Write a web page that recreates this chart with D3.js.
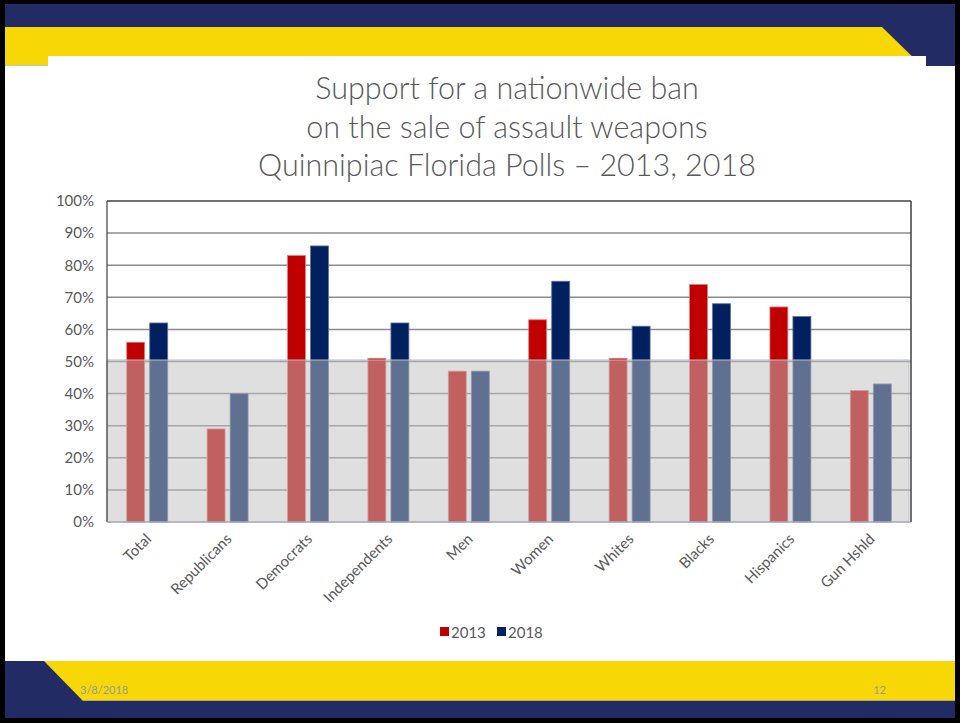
<!DOCTYPE html>
<html><head><meta charset="utf-8">
<script src="https://cdn.jsdelivr.net/npm/d3@7"></script>
<style>body{margin:0;background:#fff}svg{display:block}text{font-family:Lato,"Open Sans",sans-serif}</style>
</head><body>
<svg id="c" width="960" height="723"></svg>
<script>
const categories = ["Total","Republicans","Democrats","Independents","Men","Women","Whites","Blacks","Hispanics","Gun Hshld"];
const years = ["2013","2018"];
const values2013 = [56,29,83,51,47,63,51,74,67,41];
const values2018 = [62,40,86,62,47,75,61,68,64,43];
const yTicks = [0,10,20,30,40,50,60,70,80,90,100];
const titleLines = ["Support for a nationwide ban","on the sale of assault weapons","Quinnipiac Florida Polls \u2013 2013, 2018"];
const colors = {"2013":"#C00000","2018":"#002060"};
const footerDate = "3/8/2018", pageNum = "12";

const svg = d3.select("#c");
const NAVY="#222B63", YEL="#F7D706";
// frame
svg.append("rect").attr("width",960).attr("height",723).attr("fill","#000");
svg.append("rect").attr("x",5).attr("y",4).attr("width",950).attr("height",714).attr("fill","#fff");
// top banner
svg.append("rect").attr("x",5).attr("y",4).attr("width",950).attr("height",62).attr("fill",NAVY);
svg.append("polygon").attr("points","5,27 882,27 922,66 5,66").attr("fill",YEL);
svg.append("line").attr("x1",5).attr("x2",48).attr("y1",65.5).attr("y2",65.5).attr("stroke","#c8c8b0").attr("stroke-width",1);
svg.append("rect").attr("x",48).attr("y",56).attr("width",878).attr("height",605).attr("fill","#fff");
// bottom banner
svg.append("rect").attr("x",5).attr("y",661).attr("width",950).attr("height",40).attr("fill",YEL);
svg.append("polygon").attr("points","5,661 44,661 83,701 5,701").attr("fill",NAVY);
svg.append("rect").attr("x",5).attr("y",701).attr("width",950).attr("height",17).attr("fill",NAVY);
svg.append("line").attr("x1",83).attr("x2",955).attr("y1",700.5).attr("y2",700.5).attr("stroke","#b0a880").attr("stroke-width",1);
svg.append("text").attr("x",80).attr("y",694).attr("font-size",11).attr("fill","#9a9a9a").text(footerDate);
svg.append("text").attr("x",886).attr("y",694).attr("font-size",11).attr("fill","#9a9a9a").attr("text-anchor","end").text(pageNum);

// title
const title = svg.append("text").attr("text-anchor","middle").attr("fill","#595959").attr("font-size",30.5).attr("font-weight",300);
titleLines.forEach((t,i)=>title.append("tspan").attr("x",507).attr("y",99+i*38.5).text(t));

// chart
const L=107,R=911,T=201,B=522;
const y = d3.scaleLinear().domain([0,100]).range([B,T]);
const x0 = d3.scaleBand().domain(categories).range([L,R]);
const bw = x0.bandwidth();
const x1 = d3.scaleBand().domain(years).range([bw/2-20.5,bw/2+20.5]).paddingInner(0.22);

const g = svg.append("g");
// gridlines
g.selectAll("line.grid").data(yTicks.filter(d=>d>0&&d<100)).join("line")
 .attr("x1",L).attr("x2",R).attr("y1",d=>y(d)).attr("y2",d=>y(d))
 .attr("stroke","#8c8c8c").attr("stroke-width",1.5);
// bars
const data = categories.map((c,i)=>({c, v:{"2013":values2013[i],"2018":values2018[i]}}));
const grp = g.selectAll("g.cat").data(data).join("g").attr("transform",d=>`translate(${x0(d.c)},0)`);
grp.selectAll("rect").data(d=>years.map(k=>({k,v:d.v[k]}))).join("rect")
 .attr("x",d=>x1(d.k)).attr("width",x1.bandwidth())
 .attr("y",d=>y(d.v)).attr("height",d=>B-y(d.v))
 .attr("fill",d=>colors[d.k]).attr("stroke",d=>d.k==="2013"?"#e08080":"#6070a0").attr("stroke-width",0.8);
// translucent grey overlay below 50%
g.append("rect").attr("x",L).attr("y",y(50)-1.5).attr("width",R-L-2).attr("height",B-y(50)+1.5)
 .attr("fill","#c0c0c0").attr("fill-opacity",0.5).attr("stroke","#b8bccc").attr("stroke-width",1);
// frame
g.append("line").attr("x1",L).attr("x2",R).attr("y1",T).attr("y2",T).attr("stroke","#404040").attr("stroke-width",1.5);
g.append("line").attr("x1",R).attr("x2",R).attr("y1",T).attr("y2",B).attr("stroke","#404040").attr("stroke-width",1.5);
g.append("line").attr("x1",L).attr("x2",L).attr("y1",T).attr("y2",B).attr("stroke","#404040").attr("stroke-width",1.2);
g.append("line").attr("x1",L).attr("x2",R).attr("y1",B).attr("y2",B).attr("stroke","#9a9aa8").attr("stroke-width",1.2);

// y axis
const yAxis = d3.axisLeft(y).tickValues(yTicks).tickFormat(d=>d+"%").tickSize(0).tickPadding(13);
const ya = svg.append("g").attr("transform",`translate(${L},0)`).call(yAxis);
ya.select(".domain").remove();
ya.selectAll("text").attr("font-size",15).attr("fill","#595959").attr("font-family","Lato,'Open Sans',sans-serif");

// x axis labels
const xAxis = d3.axisBottom(x0).tickSize(0).tickPadding(0);
const xa = svg.append("g").attr("transform",`translate(0,${B})`).call(xAxis);
xa.select(".domain").remove();
xa.selectAll("text").attr("font-size",15).attr("fill","#595959").attr("font-family","Lato,'Open Sans',sans-serif")
 .attr("text-anchor","end").attr("dy",0).attr("y",0)
 .attr("transform","translate(5,18) rotate(-45)");

// legend
const leg = svg.append("g").attr("transform","translate(440,627)");
const items = [{k:"2013",x:0},{k:"2018",x:57}];
items.forEach(it=>{
  leg.append("rect").attr("x",it.x).attr("y",0).attr("width",9).attr("height",9).attr("fill",colors[it.k]);
  leg.append("text").attr("x",it.x+11).attr("y",10.5).attr("font-size",15).attr("fill","#595959").text(it.k);
});
</script>
</body></html>
